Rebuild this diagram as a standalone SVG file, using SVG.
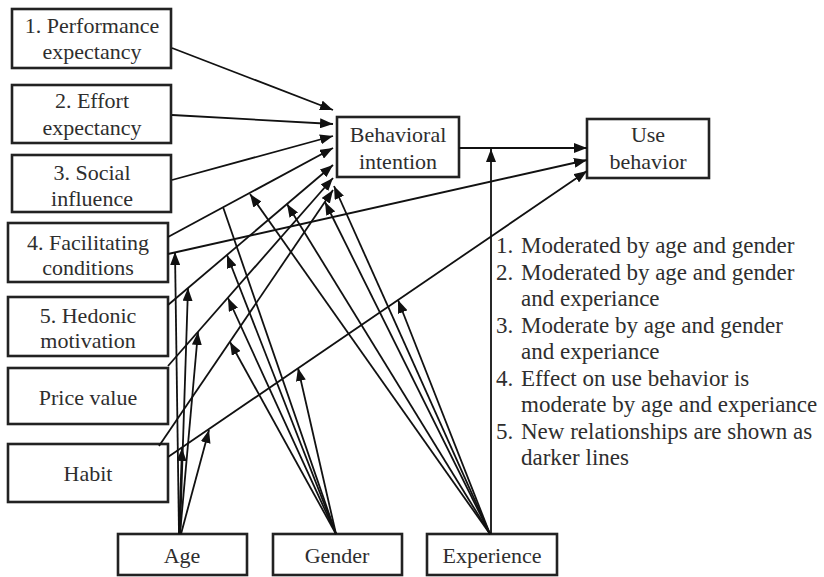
<svg xmlns="http://www.w3.org/2000/svg" width="824" height="577" viewBox="0 0 824 577">
<defs>
<marker id="ah" viewBox="0 0 13 10" refX="13" refY="5" markerWidth="13" markerHeight="10" markerUnits="userSpaceOnUse" orient="auto"><path d="M0,0 L13,5 L0,10 z" fill="#111"/></marker>
<style>
.box{fill:#fff;stroke:#222;stroke-width:2.6}
.t{font-family:"Liberation Serif","Times New Roman",serif;font-size:22px;fill:#2e2e2e;text-anchor:middle}
.n{font-family:"Liberation Serif","Times New Roman",serif;font-size:23px;fill:#2e2e2e}
.c line{stroke:#111;stroke-width:1.8;fill:none}
.c .a{marker-end:url(#ah)}
</style>
</defs>
<rect width="824" height="577" fill="#fff"/>
<g id="pe"><rect class="box" x="12" y="9" width="159" height="59"/><text class="t" x="92" y="33">1. Performance</text><text class="t" x="92" y="59">expectancy</text></g>
<g id="ee"><rect class="box" x="12" y="85" width="159" height="58"/><text class="t" x="92" y="108">2. Effort</text><text class="t" x="92" y="135">expectancy</text></g>
<g id="si"><rect class="box" x="12" y="155" width="159" height="57"/><text class="t" x="92" y="180">3. Social</text><text class="t" x="92" y="206">influence</text></g>
<g id="fc"><rect class="box" x="8" y="223" width="160" height="59"/><text class="t" x="88" y="250">4. Facilitating</text><text class="t" x="88" y="275">conditions</text></g>
<g id="hm"><rect class="box" x="8" y="297" width="160" height="59"/><text class="t" x="88" y="323">5. Hedonic</text><text class="t" x="88" y="348">motivation</text></g>
<g id="pv"><rect class="box" x="8" y="368" width="160" height="56"/><text class="t" x="88" y="405">Price value</text></g>
<g id="habit"><rect class="box" x="8" y="444" width="160" height="58"/><text class="t" x="88" y="481">Habit</text></g>
<g id="age"><rect class="box" x="118" y="534" width="129" height="41"/><text class="t" x="182" y="563">Age</text></g>
<g id="gender"><rect class="box" x="273" y="534" width="129" height="41"/><text class="t" x="337" y="563">Gender</text></g>
<g id="experience"><rect class="box" x="427" y="534" width="130" height="41"/><text class="t" x="492" y="563">Experience</text></g>
<g id="bi"><rect class="box" x="337" y="117" width="122" height="60"/><text class="t" x="398" y="142">Behavioral</text><text class="t" x="398" y="169">intention</text></g>
<g id="ub"><rect class="box" x="587" y="119" width="122" height="59"/><text class="t" x="648" y="142">Use</text><text class="t" x="648" y="169">behavior</text></g>
<g id="connectors" class="c">
<line class="a" x1="172" y1="48" x2="333" y2="110"/>
<line class="a" x1="172" y1="115" x2="333" y2="124"/>
<line class="a" x1="172" y1="180" x2="333" y2="136"/>
<line class="a" x1="168" y1="237" x2="333" y2="148"/>
<line class="a" x1="168" y1="305" x2="333" y2="165"/>
<line class="a" x1="168" y1="366" x2="333" y2="178"/>
<line class="a" x1="159" y1="446" x2="333" y2="190"/>
<line class="a" x1="168" y1="254" x2="587" y2="160"/>
<line class="a" x1="168" y1="457" x2="587" y2="171"/>
<line class="a" x1="459" y1="148" x2="587" y2="148"/>
<line class="a" x1="179" y1="534" x2="175" y2="252"/>
<line class="a" x1="179" y1="534" x2="182" y2="448"/>
<line class="a" x1="180" y1="534" x2="188" y2="288"/>
<line class="a" x1="180" y1="534" x2="198" y2="332"/>
<line class="a" x1="181" y1="534" x2="209" y2="430"/>
<line x1="336" y1="534" x2="223" y2="207"/>
<line class="a" x1="336" y1="534" x2="227" y2="255"/>
<line class="a" x1="336" y1="534" x2="228" y2="298"/>
<line class="a" x1="336" y1="534" x2="230" y2="342"/>
<line class="a" x1="336" y1="534" x2="298" y2="368"/>
<line class="a" x1="490" y1="534" x2="250" y2="194"/>
<line class="a" x1="490" y1="534" x2="287" y2="204"/>
<line class="a" x1="490" y1="534" x2="325" y2="202"/>
<line class="a" x1="490" y1="534" x2="334" y2="186"/>
<line class="a" x1="490" y1="534" x2="398" y2="300"/>
<line class="a" x1="491" y1="534" x2="491" y2="149"/>
</g>
<g id="notes">
<text class="n" y="253"><tspan x="496">1.</tspan><tspan x="521">Moderated by age and gender</tspan></text>
<text class="n" y="280"><tspan x="496">2.</tspan><tspan x="521">Moderated by age and gender</tspan></text>
<text class="n" x="521" y="306">and experiance</text>
<text class="n" y="333"><tspan x="496">3.</tspan><tspan x="521">Moderate by age and gender</tspan></text>
<text class="n" x="521" y="359">and experiance</text>
<text class="n" y="386"><tspan x="496">4.</tspan><tspan x="521">Effect on use behavior is</tspan></text>
<text class="n" x="521" y="412">moderate by age and experiance</text>
<text class="n" y="439"><tspan x="496">5.</tspan><tspan x="521">New relationships are shown as</tspan></text>
<text class="n" x="521" y="465">darker lines</text>
</g>
</svg>
